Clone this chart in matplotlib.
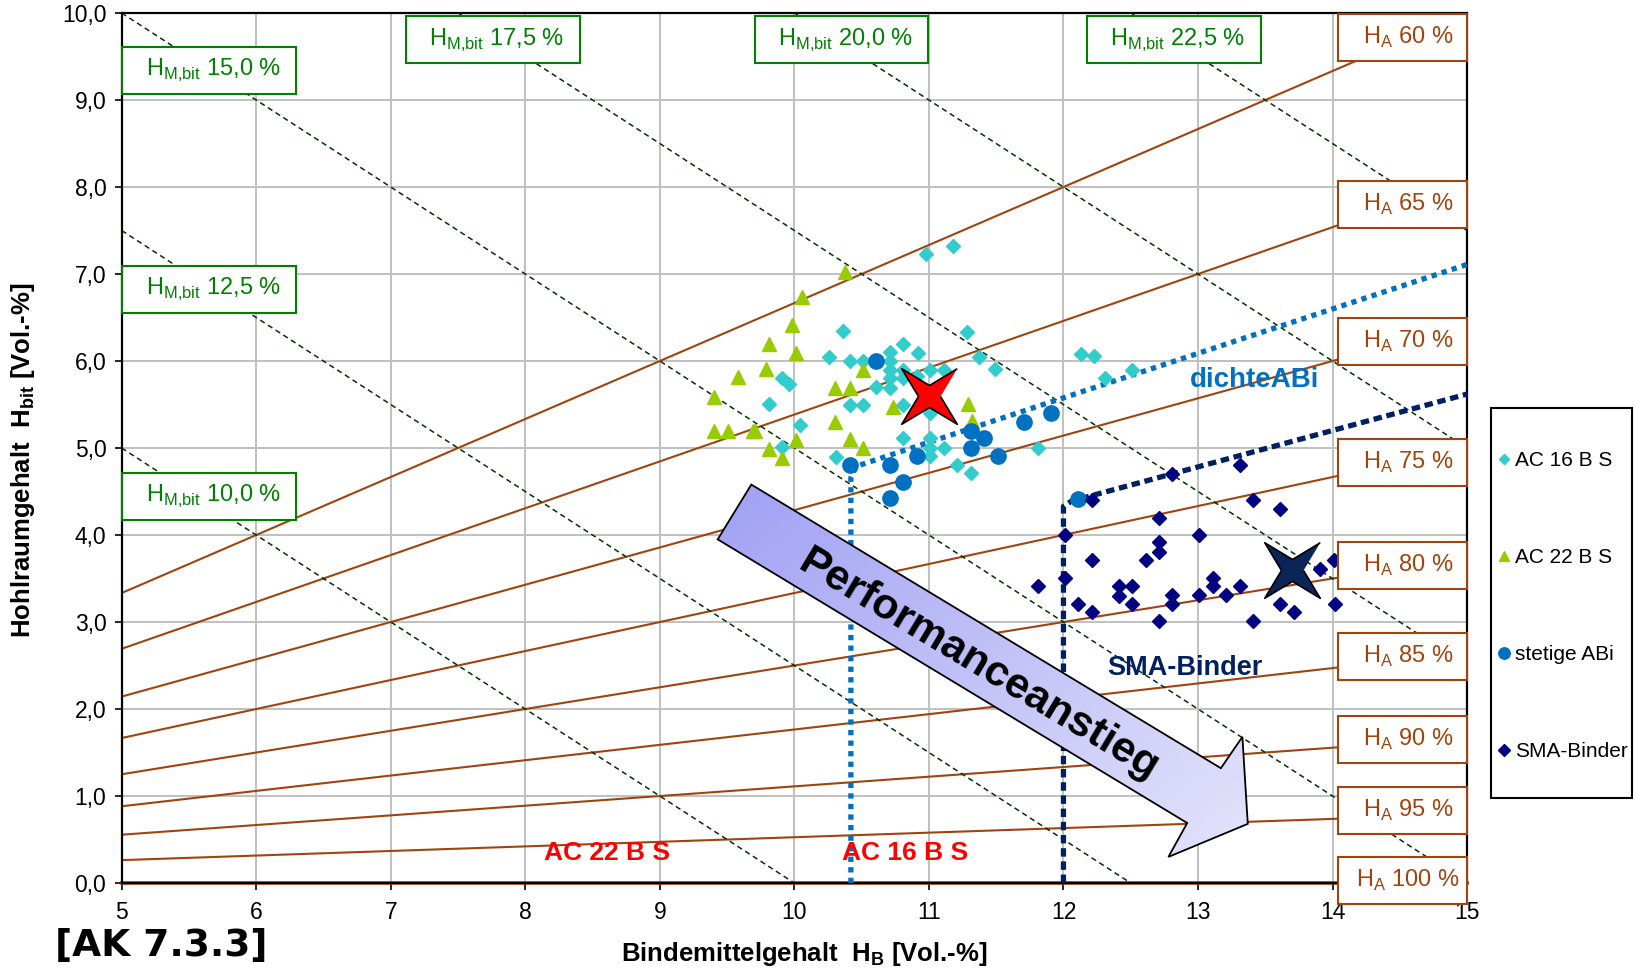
import numpy as np
import matplotlib.pyplot as plt
from matplotlib.patches import Polygon, Rectangle
from matplotlib.colors import LinearSegmentedColormap

plt.rcParams['font.family'] = ['Liberation Sans', 'DejaVu Sans']

# --- data ---
ac16_x = [10.98, 11.18, 10.36, 10.26, 10.41, 10.51, 10.71, 10.81, 10.92, 10.71,
          10.71, 10.71, 10.71, 10.81, 10.81, 10.91, 11.01, 11.11, 9.91, 9.96,
          10.61, 10.41, 10.51, 10.81, 11.01, 9.81, 11.28, 11.37, 11.49, 12.13,
          12.23, 12.31, 12.51, 10.04, 9.91, 10.31, 10.81, 11.01, 11.01, 11.01,
          11.11, 11.21, 11.31, 11.81]
ac16_y = [7.23, 7.32, 6.34, 6.05, 6.00, 6.00, 6.10, 6.20, 6.09, 6.00,
          5.90, 5.80, 5.69, 5.90, 5.80, 5.83, 5.90, 5.90, 5.81, 5.74,
          5.70, 5.50, 5.50, 5.50, 5.40, 5.51, 6.33, 6.05, 5.91, 6.08,
          6.06, 5.81, 5.90, 5.26, 5.01, 4.90, 5.11, 5.11, 5.00, 4.91,
          5.00, 4.80, 4.71, 5.00]

ac22_x = [10.06, 9.98, 9.81, 10.01, 9.79, 9.58, 9.40, 9.40, 9.51, 9.69, 9.71, 10.01,
          9.81, 9.91, 10.30, 10.30, 10.38, 10.51, 10.41, 10.73, 11.29, 11.32, 10.41, 10.51]
ac22_y = [6.74, 6.41, 6.19, 6.09, 5.91, 5.82, 5.59, 5.19, 5.19, 5.20, 5.19, 5.09,
          4.99, 4.89, 5.69, 5.30, 7.02, 5.90, 5.69, 5.47, 5.51, 5.31, 5.10, 5.00]

abi_x = [10.61, 10.41, 10.71, 10.91, 10.81, 10.71, 11.31, 11.41, 11.31, 11.51, 11.71, 11.91, 12.11]
abi_y = [6.00, 4.80, 4.80, 4.91, 4.61, 4.42, 5.20, 5.11, 5.00, 4.91, 5.30, 5.40, 4.41]

sma_x = [13.31, 12.81, 12.21, 13.41, 13.61, 12.71, 12.01, 13.01, 12.71, 12.71,
         12.21, 12.61, 11.81, 12.01, 12.41, 12.51, 12.41, 12.51, 12.81, 12.81,
         13.01, 13.11, 13.11, 13.21, 13.31, 12.11, 12.21, 13.61, 13.71, 12.71,
         13.41, 13.91, 14.01, 14.02]
sma_y = [4.80, 4.70, 4.40, 4.40, 4.30, 4.20, 4.00, 4.00, 3.92, 3.81,
         3.71, 3.71, 3.41, 3.51, 3.41, 3.41, 3.30, 3.21, 3.31, 3.21,
         3.31, 3.51, 3.41, 3.31, 3.41, 3.21, 3.11, 3.21, 3.11, 3.01,
         3.01, 3.61, 3.71, 3.21]

# mean points (stars)
star_red = (11.0, 5.6)
star_navy = (13.70, 3.60)

# boundary lines
dichte_x = [10.42, 10.42, 10.46, 15.0]
dichte_y = [0.0, 4.66, 4.79, 7.11]
smal_x = [12.0, 12.0, 12.06, 15.0]
smal_y = [0.0, 4.33, 4.39, 5.62]

ha_levels = [60, 65, 70, 75, 80, 85, 90, 95, 100]
vma_levels = [10.0, 12.5, 15.0, 17.5, 20.0, 22.5]
vma_labels = ['10,0', '12,5', '15,0', '17,5', '20,0', '22,5']

x_ticks = list(range(5, 16))
y_ticks = list(range(0, 11))
y_ticklabels = ['0,0', '1,0', '2,0', '3,0', '4,0', '5,0', '6,0', '7,0', '8,0', '9,0', '10,0']

# layout of the label boxes (centres, data coords)
vma_box_pos = [(5.65, 4.44), (5.65, 6.82), (5.65, 9.34), (7.76, 9.69), (10.35, 9.69), (12.82, 9.69)]
ha_box_y = [9.72, 7.80, 6.22, 4.83, 3.65, 2.60, 1.65, 0.83, 0.03]

arrow_x = [9.68, 13.17, 13.33, 13.37, 12.78, 12.92, 9.43]
arrow_y = [4.58, 1.32, 1.68, 0.68, 0.30, 0.69, 3.95]

BROWN = '#A0440F'
GREEN = '#008000'

fig = plt.figure(figsize=(16.35, 9.71), dpi=100)
ax = fig.add_axes([0.0744, 0.0906, 0.8229, 0.896])
ax.set_xlim(5, 15)
ax.set_ylim(0, 10)

xx = np.array([5.0, 15.0])
for ha in ha_levels:
    ax.plot(xx, xx * (100 - ha) / ha, color=BROWN, lw=1.5 if ha < 100 else 2.6,
            zorder=2, clip_on=(ha < 100))
for v in vma_levels:
    ax.plot(xx, v - xx, color='#003300', lw=1.1, ls=(0, (3.5, 2.5)), zorder=2)

ax.plot(dichte_x, dichte_y, color='#0070C0', lw=3.8, ls=(0, (1, 1)), zorder=3)
ax.plot(smal_x, smal_y, color='#002060', lw=3.8, ls=(0, (1.6, 0.9)), zorder=3)

h1, = ax.plot(ac16_x, ac16_y, ls='none', marker='D', ms=7, color='#33CCCC', label='AC 16 B S', zorder=4)
h2, = ax.plot(ac22_x, ac22_y, ls='none', marker='^', ms=10, color='#99CC00', label='AC 22 B S', zorder=4)
h3, = ax.plot(abi_x, abi_y, ls='none', marker='o', ms=11, color='#0070C0', label='stetige ABi', zorder=4)
h4, = ax.plot(sma_x, sma_y, ls='none', marker='D', ms=7.5, color='#000080', label='SMA-Binder', zorder=4)

# four-pointed star marker
ang = np.deg2rad(45 + 45 * np.arange(8))
rad = np.where(np.arange(8) % 2 == 0, 1.0, 0.28)
star = np.column_stack([rad * np.cos(ang), rad * np.sin(ang)])
ax.plot(*star_red, marker=star, ms=40, mfc='#FF0000', mec='black', mew=1.2, zorder=9)
ax.plot(*star_navy, marker=star, ms=40, mfc='#0B2559', mec='black', mew=1.2, zorder=9)

# gradient arrow
poly = Polygon(np.column_stack([arrow_x, arrow_y]), closed=True, fc='none', ec='black', lw=1.3, zorder=7)
ax.add_patch(poly)
gx, gy = np.meshgrid(np.linspace(0, 1, 200), np.linspace(0, 1, 200))
grad = 0.55 * gx + 0.45 * gy
cmap = LinearSegmentedColormap.from_list('lav', ['#A0A0F4', '#E4E4FB'])
im = ax.imshow(grad, cmap=cmap, extent=(9.4, 13.4, 0.3, 4.6), origin='upper',
               aspect='auto', zorder=6, interpolation='bilinear')
im.set_clip_path(poly)
ax.text(11.37, 2.51, 'Performanceanstieg', rotation=-31, rotation_mode='anchor',
        ha='center', va='center', fontsize=31, fontweight='bold', color='black', zorder=8)

# label boxes
for (cx, cy), lab in zip(vma_box_pos, vma_labels):
    ax.add_patch(Rectangle((cx - 0.645, cy - 0.27), 1.29, 0.54, fc='white', ec=GREEN,
                           lw=1.5, zorder=7, clip_on=False))
    ax.text(cx + 0.03, cy, 'H$_\\mathregular{M{,}bit}$ ' + lab + ' %', color=GREEN, fontsize=17,
            ha='center', va='center', zorder=8, clip_on=False)
for ha, cy in zip(ha_levels, ha_box_y):
    ax.add_patch(Rectangle((14.04, cy - 0.27), 0.96, 0.54, fc='white', ec=BROWN,
                           lw=1.5, zorder=7, clip_on=False))
    ax.text(14.56, cy, 'H$_\\mathregular{A}$ %d %%' % ha, color=BROWN, fontsize=17,
            ha='center', va='center', zorder=8, clip_on=False)

# annotations
ax.text(8.61, 0.345, 'AC 22 B S', color='#FF0000', fontsize=19, fontweight='bold', ha='center', va='center', zorder=8)
ax.text(10.82, 0.345, 'AC 16 B S', color='#FF0000', fontsize=19, fontweight='bold', ha='center', va='center', zorder=8)
ax.text(13.42, 5.78, 'dichteABi', color='#0070C0', fontsize=20, fontweight='bold', ha='center', va='center', zorder=8)
ax.text(12.90, 2.47, 'SMA-Binder', color='#002060', fontsize=19.5, fontweight='bold', ha='center', va='center', zorder=8)

ax.set_xticks(x_ticks)
ax.set_yticks(y_ticks)
ax.set_yticklabels(y_ticklabels)
ax.tick_params(labelsize=16.5, length=5, width=1.2, direction='out')
ax.tick_params(axis='x', pad=8)
ax.tick_params(axis='y', pad=6)
ax.grid(color='#C0C0C0', lw=1.4)
ax.set_axisbelow(True)
for s in ax.spines.values():
    s.set_linewidth(1.6)
    s.set_color('black')

fig.text(0.014, 0.526, 'Hohlraumgehalt  H$_\\mathregular{bit}$ [Vol.-%]', rotation=90,
         fontsize=18.5, fontweight='bold', ha='center', va='center')
fig.text(0.492, 0.0175, 'Bindemittelgehalt  H$_\\mathregular{B}$ [Vol.-%]',
         fontsize=18.5, fontweight='bold', ha='center', va='center')
fig.text(0.0985, 0.026, '[AK 7.3.3]', fontsize=27, fontweight='bold',
         family='DejaVu Sans', ha='center', va='center')

# legend with a hand-placed frame
fig.patches.append(Rectangle((0.9119, 0.1782), 0.0862, 0.4016, transform=fig.transFigure,
                             fc='white', ec='black', lw=1.5, zorder=1))
leg = fig.legend(handles=[h1, h2, h3, h4], loc='upper left', bbox_to_anchor=(0.9165, 0.5355),
                 fontsize=15, labelspacing=3.75, borderpad=0, handlelength=0.5,
                 handletextpad=0.3, markerscale=0.75, frameon=False, borderaxespad=0)

fig.savefig('out.png', dpi=100)
